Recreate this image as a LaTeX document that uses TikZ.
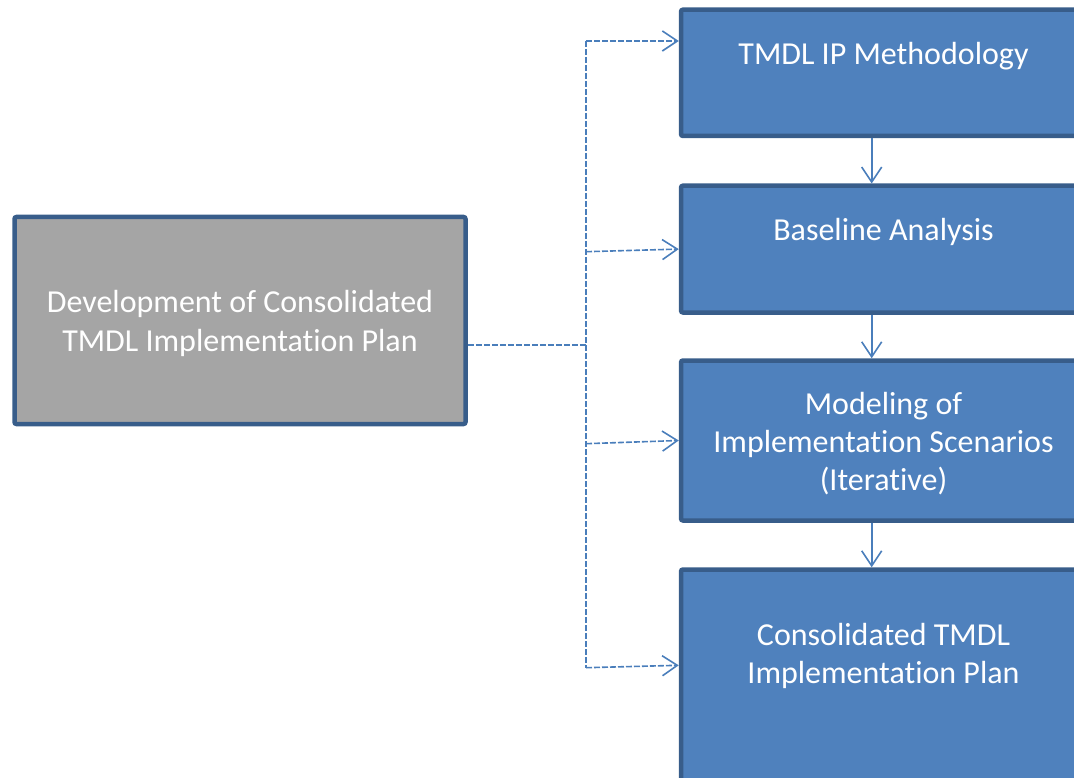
\documentclass[tikz,border=0pt]{standalone}
\usepackage{fontspec}
\setmainfont{Carlito}[Ligatures=NoCommon]
\usetikzlibrary{arrows.meta, positioning}
\definecolor{boxblue}{HTML}{4F81BD}
\definecolor{boxedge}{HTML}{385D8A}
\definecolor{boxgrey}{HTML}{A5A5A5}
\definecolor{linkblue}{HTML}{4A7EBB}
\tikzset{
  bluebox/.style={draw=boxedge, fill=boxblue, line width=4.5pt, rounded corners=2pt, minimum width=405pt},
  greybox/.style={draw=boxedge, fill=boxgrey, line width=4.5pt, rounded corners=2pt},
  boxtext/.style={text=white, align=center, inner sep=0pt, font=\fontsize{32}{38.3}\selectfont},
  dashlink/.style={draw=linkblue, line width=1.6pt, dash pattern=on 6pt off 2pt},
  barb/.style={-{Straight Barb[length=15pt, width=20pt, line width=1.6pt]}},
  steplink/.style={draw=linkblue, line width=1.6pt, barb}
}
\begin{document}
\begin{tikzpicture}[x=1pt, y=-1pt]
\useasboundingbox (0,0) rectangle (1074,778);
\node[greybox, minimum width=451pt, minimum height=207pt] (dev) at (240,320.5) {};
\node[bluebox, minimum height=126.3pt] (meth) at (883.5,72.85) {};
\node[bluebox, minimum height=126.8pt] (base) at (883.5,249.1) {};
\node[bluebox, minimum height=160pt] (model) at (883.5,440.5) {};
\node[bluebox, minimum height=250.5pt] (plan) at (883.5,694.75) {};
\node[boxtext, anchor=base] (devtxt) at (240,351) {Development of Consolidated\\TMDL Implementation Plan};
\node[boxtext, anchor=base] (methtxt) at (883.5,64.3) {TMDL IP Methodology};
\node[boxtext, anchor=base] (basetxt) at (883.5,241) {Baseline Analysis};
\node[boxtext, anchor=base] (modeltxt) at (883.5,490.9) {Modeling of\\Implementation Scenarios\\(Iterative)};
\node[boxtext, anchor=base] (plantxt) at (883.5,683.7) {Consolidated TMDL\\Implementation Plan};
\coordinate (hub) at (586,345);
\coordinate (trunktop) at (586,41);
\coordinate (trunkbot) at (586,667.7);
\coordinate (br2) at (586,251.7);
\coordinate (br3) at (586,443.7);
\draw[dashlink] ([yshift=-24.5pt]dev.east) -- (hub);
\draw[dashlink] (trunktop) -- (trunkbot);
\draw[dashlink, barb] (trunktop) -- (meth.west |- trunktop);
\draw[dashlink, barb] (br2) -- (base.west);
\draw[dashlink, barb] (br3) -- (model.west);
\draw[dashlink, barb] (trunkbot) -- ([yshift=2.4pt]plan.west |- trunkbot);
\draw[steplink] ([xshift=-11.8pt]meth.south) -- ([xshift=-11.8pt]base.north);
\draw[steplink] ([xshift=-11.8pt]base.south) -- ([xshift=-11.8pt]model.north);
\draw[steplink] ([xshift=-11.8pt]model.south) -- ([xshift=-11.8pt]plan.north);
\end{tikzpicture}
\end{document}
